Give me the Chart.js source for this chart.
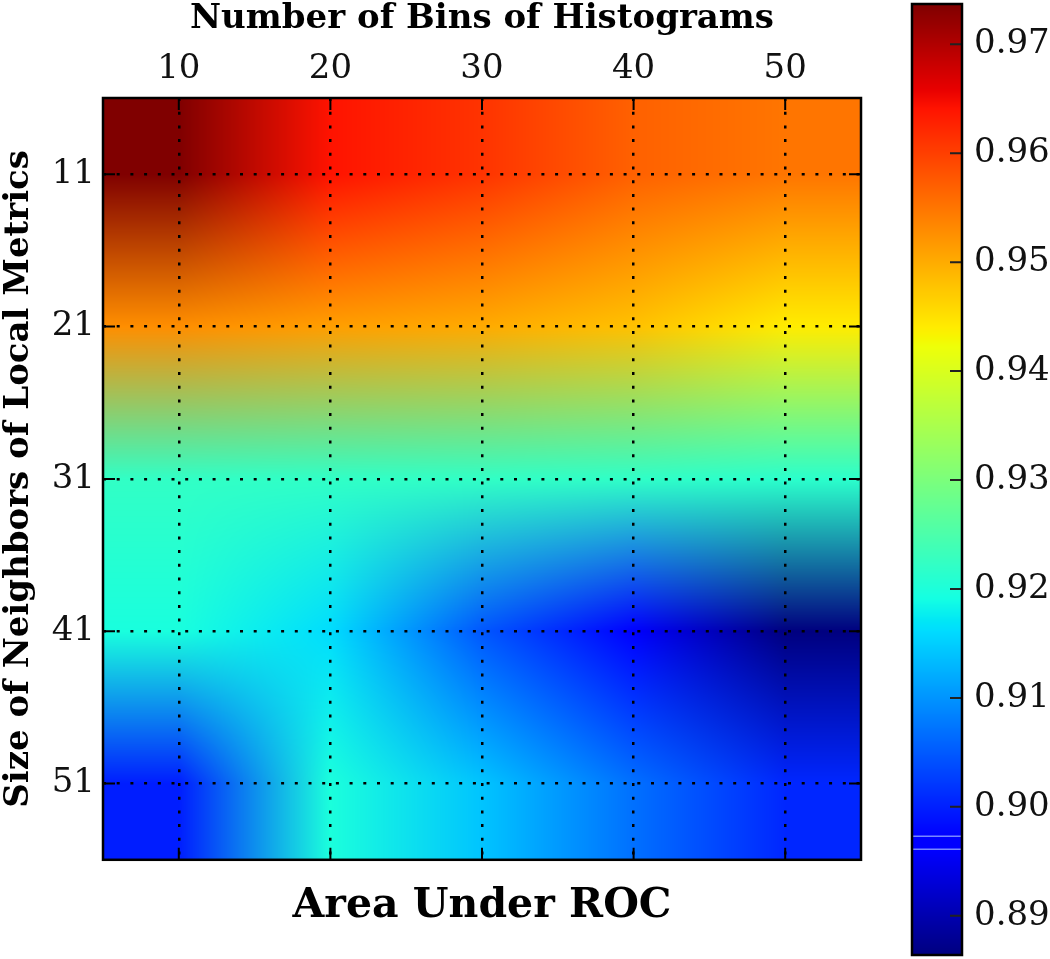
<!DOCTYPE html>
<html>
<head>
<meta charset="utf-8">
<script src="https://cdn.jsdelivr.net/npm/chart.js@4.4.1/dist/chart.umd.min.js"></script>
<style>
  html, body { margin:0; padding:0; background:#fff; }
  #wrap { position:relative; width:1050px; height:959px; }
  #heat { position:absolute; left:0; top:0; }
  #cbar { position:absolute; left:880px; top:0; }
</style>
</head>
<body>
<div id="wrap">
  <canvas id="heat" width="880" height="959"></canvas>
  <canvas id="cbar" width="170" height="959"></canvas>
</div>
<script>
/* AUC heatmap: histogram bins (x) vs neighbourhood size (y), jet colormap */

/* ── Data ─────────────────────────────────────────────────────────── */
var binCounts     = [10, 20, 30, 40, 50];          // x categories (top axis)
var neighborSizes = [11, 21, 31, 41, 51];          // y categories (left axis)

// AUC per neighbourhood size, one value per bin count
var aucN11 = [0.9737, 0.9641, 0.9611, 0.9569, 0.9550];
var aucN21 = [0.9527, 0.9512, 0.9501, 0.9480, 0.9440];
var aucN31 = [0.9222, 0.9221, 0.9222, 0.9220, 0.9215];
var aucN41 = [0.9196, 0.9162, 0.9047, 0.8972, 0.8864];
var aucN51 = [0.8998, 0.9198, 0.9141, 0.9069, 0.9006];
var aucRows = [aucN11, aucN21, aucN31, aucN41, aucN51];

var colorTicks = [0.89, 0.90, 0.91, 0.92, 0.93, 0.94, 0.95, 0.96, 0.97];
var colorMin = 0.8864;
var colorMax = 0.9737;
var colorSeams = [0.8973, 0.8961];   // light banding lines seen in the colorbar

var SERIF = '"DejaVu Serif", "Liberation Serif", serif';
var TICK_LEN = 12;
var TICK_FONT = { family: SERIF, size: 34 };

/* ── jet colormap (matplotlib segment data) ───────────────────────── */
var JET_R = [[0,0],[0.35,0],[0.66,1],[0.89,1],[1,0.5]];
var JET_G = [[0,0],[0.125,0],[0.375,1],[0.64,1],[0.91,0],[1,0]];
var JET_B = [[0,0.5],[0.11,1],[0.34,1],[0.65,0],[1,0]];
function seg(pts, t){
  for(var i=1;i<pts.length;i++){
    if(t <= pts[i][0]){
      var a = pts[i-1], b = pts[i];
      return a[1] + (b[1]-a[1])*(t-a[0])/(b[0]-a[0]);
    }
  }
  return pts[pts.length-1][1];
}
function jet(v){
  var t = (v - colorMin)/(colorMax - colorMin);
  t = Math.max(0, Math.min(1, t));
  return [seg(JET_R,t)*255, seg(JET_G,t)*255, seg(JET_B,t)*255];
}

// fractional position of a value among category centres (clamped at the ends)
function gridPos(v, cats){
  var n = cats.length;
  if(v <= cats[0]) return 0;
  if(v >= cats[n-1]) return n-1;
  for(var i=0;i<n-1;i++){
    if(v <= cats[i+1]) return i + (v-cats[i])/(cats[i+1]-cats[i]);
  }
  return n-1;
}

// scatter points carry the cell values; the plugin paints from these
var heatPoints = [];
neighborSizes.forEach(function(ny, j){
  binCounts.forEach(function(bx, i){
    heatPoints.push({x:bx, y:ny, v:aucRows[j][i]});
  });
});

/* ── Heatmap painter: bilinear blend of cell colours, like old imshow ── */
var heatmapPlugin = {
  id: 'heatmap',
  beforeDraw: function(chart){
    var a = chart.chartArea, xs = chart.scales.x, ys = chart.scales.y;
    var nodes = [];
    chart.data.datasets[0].data.forEach(function(p){
      var i = binCounts.indexOf(p.x), j = neighborSizes.indexOf(p.y);
      if(!nodes[j]) nodes[j] = [];
      nodes[j][i] = jet(p.v);
    });
    var left = Math.round(a.left), top = Math.round(a.top);
    var w = Math.round(a.right) - left, h = Math.round(a.bottom) - top;
    var off = document.createElement('canvas');
    off.width = w; off.height = h;
    var octx = off.getContext('2d');
    var img = octx.createImageData(w, h);
    var fx = [], fy = [];
    for(var px=0; px<w; px++) fx.push(gridPos(xs.getValueForPixel(left+px+0.5), binCounts));
    for(var py=0; py<h; py++) fy.push(gridPos(ys.getValueForPixel(top+py+0.5), neighborSizes));
    var nx = binCounts.length, ny = neighborSizes.length;
    for(var yy=0; yy<h; yy++){
      var j0 = Math.min(Math.floor(fy[yy]), ny-2), ty = fy[yy]-j0;
      for(var xx=0; xx<w; xx++){
        var i0 = Math.min(Math.floor(fx[xx]), nx-2), tx = fx[xx]-i0;
        var c00 = nodes[j0][i0], c10 = nodes[j0][i0+1], c01 = nodes[j0+1][i0], c11 = nodes[j0+1][i0+1];
        var k = (yy*w + xx)*4;
        for(var c=0;c<3;c++){
          var top0 = c00[c] + (c10[c]-c00[c])*tx;
          var bot0 = c01[c] + (c11[c]-c01[c])*tx;
          img.data[k+c] = Math.round(top0 + (bot0-top0)*ty);
        }
        img.data[k+3] = 255;
      }
    }
    octx.putImageData(img, 0, 0);
    chart.ctx.drawImage(off, left, top);
  }
};

/* ── Frame + inward ticks on all four sides ───────────────────────── */
var framePlugin = {
  id: 'frame',
  afterDraw: function(chart){
    var ctx = chart.ctx, a = chart.chartArea, xs = chart.scales.x, ys = chart.scales.y;
    ctx.save();
    ctx.strokeStyle = '#000';
    ctx.lineWidth = 2;
    ctx.beginPath();
    binCounts.forEach(function(v){
      var px = xs.getPixelForValue(v);
      ctx.moveTo(px, a.top); ctx.lineTo(px, a.top+TICK_LEN);
      ctx.moveTo(px, a.bottom); ctx.lineTo(px, a.bottom-TICK_LEN);
    });
    neighborSizes.forEach(function(v){
      var py = ys.getPixelForValue(v);
      ctx.moveTo(a.left, py); ctx.lineTo(a.left+TICK_LEN, py);
      ctx.moveTo(a.right, py); ctx.lineTo(a.right-TICK_LEN, py);
    });
    ctx.stroke();
    ctx.lineWidth = 2.5;
    ctx.strokeRect(a.left, a.top, a.right-a.left, a.bottom-a.top);
    ctx.restore();
  }
};

var heatChart = new Chart(document.getElementById('heat'), {
  type: 'scatter',
  data: { datasets: [{ data: heatPoints, pointRadius: 0, pointHoverRadius: 0 }] },
  options: {
    responsive: false,
    animation: false,
    events: [],
    layout: { padding: { left: 0, top: 0, right: 19, bottom: 0 } },
    plugins: {
      legend: { display: false },
      tooltip: { enabled: false },
      title: {
        display: true, text: 'Area Under ROC', position: 'bottom', fullSize: false,
        color: '#000', font: { family: SERIF, size: 41, weight: 'bold', lineHeight: 1.2 },
        padding: { top: 22, bottom: 28 }
      }
    },
    scales: {
      x: {
        type: 'linear', position: 'top', min: 5, max: 55,
        afterBuildTicks: function(s){ s.ticks = binCounts.map(function(v){ return {value:v}; }); },
        afterFit: function(s){ s.height = 98; s.paddingLeft = 0; s.paddingRight = 0; },
        ticks: { padding: 8, color: '#111', font: TICK_FONT,
                 callback: function(v){ return String(v); } },
        grid: { color: '#000', lineWidth: 2.5, drawTicks: false },
        border: { display: false, dash: [3, 10.7] },
        title: { display: true, text: 'Number of Bins of Histograms', color: '#000',
                 font: { family: SERIF, size: 34, weight: 'bold', lineHeight: 1.1 }, padding: { top: 0, bottom: 0 } }
      },
      y: {
        type: 'linear', position: 'left', reverse: true, min: 6, max: 56,
        afterBuildTicks: function(s){ s.ticks = neighborSizes.map(function(v){ return {value:v}; }); },
        afterFit: function(s){ s.width = 103; s.paddingTop = 0; s.paddingBottom = 0; },
        ticks: { padding: 8, color: '#111', font: TICK_FONT,
                 callback: function(v){ return String(v); } },
        grid: { color: '#000', lineWidth: 2.5, drawTicks: false },
        border: { display: false, dash: [3, 10.7] },
        title: { display: true, text: 'Size of Neighbors of Local Metrics', color: '#000',
                 font: { family: SERIF, size: 34, weight: 'bold', lineHeight: 1.1 }, padding: { top: 0, bottom: 0 } }
      }
    }
  },
  plugins: [heatmapPlugin, framePlugin]
});

/* ── Colorbar ─────────────────────────────────────────────────────── */
var colorbarPlugin = {
  id: 'colorbar',
  beforeDraw: function(chart){
    var ctx = chart.ctx, a = chart.chartArea, ys = chart.scales.y;
    var top = Math.round(a.top), bottom = Math.round(a.bottom);
    for(var py=top; py<bottom; py++){
      var c = jet(ys.getValueForPixel(py+0.5));
      ctx.fillStyle = 'rgb('+Math.round(c[0])+','+Math.round(c[1])+','+Math.round(c[2])+')';
      ctx.fillRect(a.left, py, a.right-a.left, 1);
    }
    ctx.save();
    ctx.strokeStyle = 'rgba(150,170,255,0.8)';
    ctx.lineWidth = 1.5;
    colorSeams.forEach(function(v){
      var py = ys.getPixelForValue(v);
      ctx.beginPath(); ctx.moveTo(a.left, py); ctx.lineTo(a.right, py); ctx.stroke();
    });
    ctx.restore();
  },
  afterDraw: function(chart){
    var ctx = chart.ctx, a = chart.chartArea, ys = chart.scales.y;
    ctx.save();
    ctx.strokeStyle = '#222';
    ctx.lineWidth = 2;
    ctx.beginPath();
    colorTicks.forEach(function(v){
      var py = ys.getPixelForValue(v);
      ctx.moveTo(a.right, py); ctx.lineTo(a.right-TICK_LEN, py);
    });
    ctx.stroke();
    ctx.strokeStyle = '#000';
    ctx.lineWidth = 2.5;
    ctx.strokeRect(a.left, a.top, a.right-a.left, a.bottom-a.top);
    ctx.restore();
  }
};

var cbarChart = new Chart(document.getElementById('cbar'), {
  type: 'scatter',
  data: { datasets: [] },
  options: {
    responsive: false,
    animation: false,
    events: [],
    layout: { padding: { left: 32, top: 4, right: 0, bottom: 4 } },
    plugins: { legend: { display: false }, tooltip: { enabled: false } },
    scales: {
      x: { display: false, min: 0, max: 1 },
      y: {
        type: 'linear', position: 'right', min: colorMin, max: colorMax,
        afterBuildTicks: function(s){ s.ticks = colorTicks.map(function(v){ return {value:v}; }); },
        afterFit: function(s){ s.width = 88; s.paddingTop = 0; s.paddingBottom = 0; },
        ticks: { padding: 12, color: '#111', font: TICK_FONT,
                 callback: function(v){ return v.toFixed(2); } },
        grid: { display: false, drawTicks: false },
        border: { display: false }
      }
    }
  },
  plugins: [colorbarPlugin]
});
</script>
</body>
</html>
